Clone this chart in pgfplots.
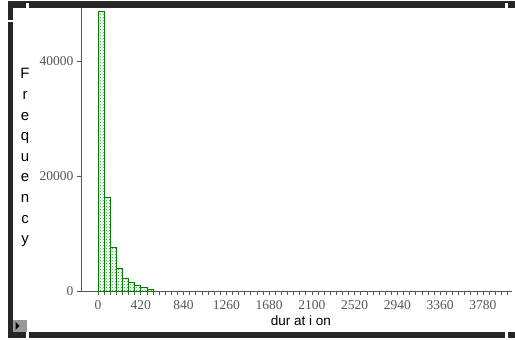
\documentclass[border=0pt]{standalone}
\usepackage{pgfplots}
\pgfplotsset{compat=1.18}
\usetikzlibrary{patterns}
\usepackage{fontspec}
\setmainfont{Liberation Serif}
\newfontfamily\sansf{Liberation Sans}
\definecolor{tickgray}{HTML}{555555}
\definecolor{bargreen}{HTML}{008000}
\begin{document}
\begin{tikzpicture}[x=1pt,y=1pt]
\path[use as bounding box] (0,0) rectangle (515,340);
\begin{axis}[
  at={(81pt,48.5pt)}, anchor=south west,
  scale only axis, width=431pt, height=287.5pt,
  xmin=-167, xmax=4065, ymin=0, ymax=50000,
  axis lines*=left,
  axis line style={tickgray, line width=0.8pt},
  xtick={0,420,...,3780},
  minor xtick={0,60,...,4040},
  ytick={0,20000,40000},
  tick align=outside,
  major tick length=4pt, minor tick length=4pt,
  tick style={tickgray, line width=0.6pt},
  scaled y ticks=false,
  /pgf/number format/set thousands separator={},
  /pgf/number format/assume math mode=true,
  tick label style={font=\fontsize{13.5}{14}\selectfont, text=tickgray},
  xticklabel style={yshift=-1pt},
  clip=false,
]
\addplot[ybar interval, draw=bargreen, line width=0.7pt, pattern=crosshatch dots, pattern color=bargreen!80] coordinates {
(0,48650) (60,16400) (120,7720) (180,3950) (240,2330) (300,1570) (360,990) (420,700) (480,420) (540,0)
};
\end{axis}
% y label
\node[font=\sansf\fontsize{15}{20.6}\selectfont, align=center, anchor=north] at (25,275) {F\\r\\e\\q\\u\\e\\n\\c\\y};
% x label
\node[font=\sansf\fontsize{13.5}{14}\selectfont, anchor=base] at (301,14) {dur at i on};
% window frame
\fill[black!85] (8,332) rectangle (515,338.5);
\fill[white] (26,332) rectangle (28.7,337);
\fill[white] (505,332) rectangle (508,337);
\fill[black!85] (8,2) rectangle (13,338.5);
\fill[white] (8,317.5) rectangle (13,320);
\fill[black!85] (8,2) rectangle (515,8);
\fill[white] (26,2) rectangle (28.7,8);
\fill[white] (505,2) rectangle (508,8);
\fill[black!40] (13,8) rectangle (27,20);
\fill[black] (15.5,10) -- (19.5,14) -- (15.5,18) -- cycle;
\end{tikzpicture}
\end{document}
